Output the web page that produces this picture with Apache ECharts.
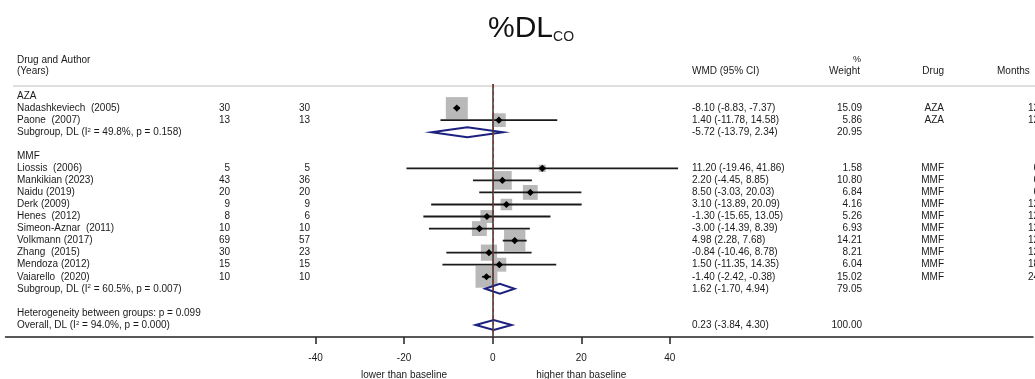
<!DOCTYPE html>
<html>
<head>
  <meta charset="utf-8">
  <title>%DLco forest plot</title>
  <script src="https://cdn.jsdelivr.net/npm/echarts@6/dist/echarts.min.js"></script>
  <style>
    html, body { margin: 0; padding: 0; background: #fff; }
    #chart { width: 1035px; height: 379px; }
  </style>
</head>
<body>
<div id="chart"></div>
<script>
  // ---- data ----
  var groupNames = ['AZA', 'MMF'];
  var studyNames = ['Nadashkeviech  (2005)', 'Paone  (2007)', 'Liossis  (2006)', 'Mankikian (2023)',
    'Naidu (2019)', 'Derk (2009)', 'Henes  (2012)', 'Simeon-Aznar  (2011)', 'Volkmann (2017)',
    'Zhang  (2015)', 'Mendoza (2012)', 'Vaiarello  (2020)'];
  var studyGroup = [0, 0, 1, 1, 1, 1, 1, 1, 1, 1, 1, 1];
  var nFirst = [30, 13, 5, 43, 20, 9, 8, 10, 69, 30, 15, 10];
  var nSecond = [30, 13, 5, 36, 20, 9, 6, 10, 57, 23, 15, 10];
  var wmd = [-8.10, 1.40, 11.20, 2.20, 8.50, 3.10, -1.30, -3.00, 4.98, -0.84, 1.50, -1.40];
  var ciLow = [-8.83, -11.78, -19.46, -4.45, -3.03, -13.89, -15.65, -14.39, 2.28, -10.46, -11.35, -2.42];
  var ciHigh = [-7.37, 14.58, 41.86, 8.85, 20.03, 20.09, 13.05, 8.39, 7.68, 8.78, 14.35, -0.38];
  var weight = [15.09, 5.86, 1.58, 10.80, 6.84, 4.16, 5.26, 6.93, 14.21, 8.21, 6.04, 15.02];
  var drug = ['AZA', 'AZA', 'MMF', 'MMF', 'MMF', 'MMF', 'MMF', 'MMF', 'MMF', 'MMF', 'MMF', 'MMF'];
  var months = [12, 12, 6, 6, 6, 12, 12, 12, 12, 12, 18, 24];

  var subI2 = ['49.8', '60.5'];
  var subP = ['0.158', '0.007'];
  var subWmd = [-5.72, 1.62];
  var subLow = [-13.79, -1.70];
  var subHigh = [2.34, 4.94];
  var subWeight = [20.95, 79.05];

  var hetP = '0.099';
  var overallI2 = '94.0';
  var overallP = '0.000';
  var overallWmd = [0.23];
  var overallLow = [-3.84];
  var overallHigh = [4.30];
  var overallWeight = [100.00];

  var tickValues = [-40, -20, 0, 20, 40];
  var sideLabelAt = [-20, 20];
  var sideLabels = ['lower than baseline', 'higher than baseline'];

  // ---- layout ----
  var FONT = '"Liberation Sans", Arial, sans-serif';
  var TEXT = '#1a1a1a';
  var col = { name: 17, n1: 230, n2: 310, wmd: 692, weight: 862, drug: 944, months: 1039 };

  function ciText(e, l, h) {
    return e.toFixed(2) + ' (' + l.toFixed(2) + ', ' + h.toFixed(2) + ')';
  }

  // build table rows (slot = line number from the top)
  var rows = [];
  var studyPoints = [];
  var pooledPoints = [];
  var slot = 0;
  groupNames.forEach(function (g, gi) {
    rows.push({ slot: slot++, label: g });
    studyNames.forEach(function (n, i) {
      if (studyGroup[i] !== gi) return;
      rows.push({
        slot: slot, label: n, n1: String(nFirst[i]), n2: String(nSecond[i]),
        ci: ciText(wmd[i], ciLow[i], ciHigh[i]), w: weight[i].toFixed(2),
        drug: drug[i], months: String(months[i])
      });
      studyPoints.push([wmd[i], slot, ciLow[i], ciHigh[i], weight[i]]);
      slot++;
    });
    rows.push({
      slot: slot, label: 'Subgroup, DL (I{s|2} = ' + subI2[gi] + '%, p = ' + subP[gi] + ')',
      ci: ciText(subWmd[gi], subLow[gi], subHigh[gi]), w: subWeight[gi].toFixed(2)
    });
    pooledPoints.push([subWmd[gi], slot, subLow[gi], subHigh[gi]]);
    slot += 2;
  });
  rows.push({ slot: slot++, label: 'Heterogeneity between groups: p = ' + hetP });
  rows.push({
    slot: slot, label: 'Overall, DL (I{s|2} = ' + overallI2 + '%, p = ' + overallP + ')',
    ci: ciText(overallWmd[0], overallLow[0], overallHigh[0]), w: overallWeight[0].toFixed(2)
  });
  pooledPoints.push([overallWmd[0], slot, overallLow[0], overallHigh[0]]);

  var supRich = { s: { fontSize: 6, fontFamily: FONT, fill: TEXT, verticalAlign: 'top' } };

  function renderRow(params, api) {
    var r = rows[params.dataIndex];
    var y = api.coord([0, r.slot])[1];
    var kids = [];
    function txt(s, x, align) {
      if (s === undefined) return;
      kids.push({
        type: 'text',
        style: {
          text: s, x: x, y: y, align: align, verticalAlign: 'middle',
          fontSize: 10, fontFamily: FONT, fill: TEXT, rich: supRich
        }
      });
    }
    txt(r.label, col.name, 'left');
    txt(r.n1, col.n1, 'right');
    txt(r.n2, col.n2, 'right');
    txt(r.ci, col.wmd, 'left');
    txt(r.w, col.weight, 'right');
    txt(r.drug, col.drug, 'right');
    txt(r.months, col.months, 'right');
    return { type: 'group', children: kids };
  }

  function renderBox(params, api) {
    var c = api.coord([api.value(0), api.value(1)]);
    var side = 5.66 * Math.sqrt(api.value(4));
    return {
      type: 'rect',
      shape: { x: c[0] - side / 2, y: c[1] - side / 2, width: side, height: side },
      style: { fill: '#b9b9b9' }
    };
  }

  function renderCi(params, api) {
    var c = api.coord([api.value(0), api.value(1)]);
    var lo = api.coord([api.value(2), api.value(1)]);
    var hi = api.coord([api.value(3), api.value(1)]);
    var d = 3.6;
    return {
      type: 'group',
      children: [
        { type: 'line', shape: { x1: lo[0], y1: c[1], x2: hi[0], y2: c[1] },
          style: { stroke: '#1a1a1a', lineWidth: 1.8 } },
        { type: 'polygon', shape: { points: [[c[0] - d, c[1]], [c[0], c[1] - d], [c[0] + d, c[1]], [c[0], c[1] + d]] },
          style: { fill: '#000' } }
      ]
    };
  }

  function renderDiamond(params, api) {
    var c = api.coord([api.value(0), api.value(1)]);
    var lo = api.coord([api.value(2), api.value(1)]);
    var hi = api.coord([api.value(3), api.value(1)]);
    var h = 5;
    return {
      type: 'polygon',
      shape: { points: [[lo[0], c[1]], [c[0], c[1] - h], [hi[0], c[1]], [c[0], c[1] + h]] },
      style: { fill: '#fff', stroke: '#1c2180', lineWidth: 2 }
    };
  }

  var chart = echarts.init(document.getElementById('chart'), null, { renderer: 'canvas' });
  chart.setOption({
    animation: false,
    backgroundColor: '#fff',
    title: {
      text: '{a|%DL}{b|CO}',
      left: 483,
      top: 9,
      textStyle: {
        fontWeight: 'normal',
        rich: {
          a: { fontSize: 30, fontFamily: FONT, fontWeight: 'normal', color: '#111' },
          b: { fontSize: 14, fontFamily: FONT, fontWeight: 'normal', color: '#222', verticalAlign: 'bottom' }
        }
      }
    },
    graphic: [
      { type: 'line', shape: { x1: 13, y1: 86, x2: 1035, y2: 86 }, style: { stroke: '#bdbdbd', lineWidth: 1 } },
      { type: 'text', x: col.name, y: 60, style: { text: 'Drug and Author', fontSize: 10, fontFamily: FONT, fill: TEXT, verticalAlign: 'middle' } },
      { type: 'text', x: col.name, y: 71, style: { text: '(Years)', fontSize: 10, fontFamily: FONT, fill: TEXT, verticalAlign: 'middle' } },
      { type: 'text', x: col.wmd, y: 71, style: { text: 'WMD (95% CI)', fontSize: 10, fontFamily: FONT, fill: TEXT, verticalAlign: 'middle' } },
      { type: 'text', x: col.weight - 1, y: 60, style: { text: '%', fontSize: 9, fontFamily: FONT, fill: TEXT, align: 'right', verticalAlign: 'middle' } },
      { type: 'text', x: col.weight - 2, y: 71, style: { text: 'Weight', fontSize: 10, fontFamily: FONT, fill: TEXT, align: 'right', verticalAlign: 'middle' } },
      { type: 'text', x: col.drug, y: 71, style: { text: 'Drug', fontSize: 10, fontFamily: FONT, fill: TEXT, align: 'right', verticalAlign: 'middle' } },
      { type: 'text', x: 997, y: 71, style: { text: 'Months', fontSize: 10, fontFamily: FONT, fill: TEXT, verticalAlign: 'middle' } }
    ],
    grid: { left: 5.5, right: 2, top: 84, bottom: 42, containLabel: false, outerBoundsMode: 'none' },
    xAxis: {
      type: 'value',
      min: -110,
      max: 122,
      splitLine: { show: false },
      axisLine: { onZero: false, lineStyle: { color: '#222', width: 1.5 } },
      axisTick: { customValues: tickValues, length: 7, lineStyle: { color: '#222', width: 1.5 } },
      axisLabel: {
        customValues: tickValues,
        margin: 13,
        fontSize: 10,
        fontFamily: FONT,
        color: TEXT,
        lineHeight: 17,
        formatter: function (v) {
          var k = sideLabelAt.indexOf(v);
          return k < 0 ? String(v) : v + '\n{d|' + sideLabels[k] + '}';
        },
        rich: { d: { fontSize: 10, fontFamily: FONT, color: TEXT, lineHeight: 17 } }
      }
    },
    yAxis: { type: 'value', inverse: true, min: -1, max: 20, show: false },
    series: [
      { type: 'custom', name: 'boxes', z: 1, renderItem: renderBox, data: studyPoints, silent: true },
      {
        type: 'line', name: 'ref', z: 2, data: [], silent: true,
        markLine: {
          symbol: 'none', silent: true, label: { show: false },
          data: [
            { xAxis: 0, lineStyle: { color: '#333', width: 1.5, type: 'solid' } },
            { xAxis: overallWmd[0], lineStyle: { color: '#9b2d2d', width: 1, type: [4, 3] } }
          ]
        }
      },
      { type: 'custom', name: 'ci', z: 3, renderItem: renderCi, data: studyPoints, silent: true },
      { type: 'custom', name: 'pooled', z: 4, renderItem: renderDiamond, data: pooledPoints, silent: true },
      {
        type: 'custom', name: 'table', z: 5, silent: true, clip: false,
        renderItem: renderRow,
        data: rows.map(function (r) { return [0, r.slot]; })
      }
    ]
  });
</script>
</body>
</html>
